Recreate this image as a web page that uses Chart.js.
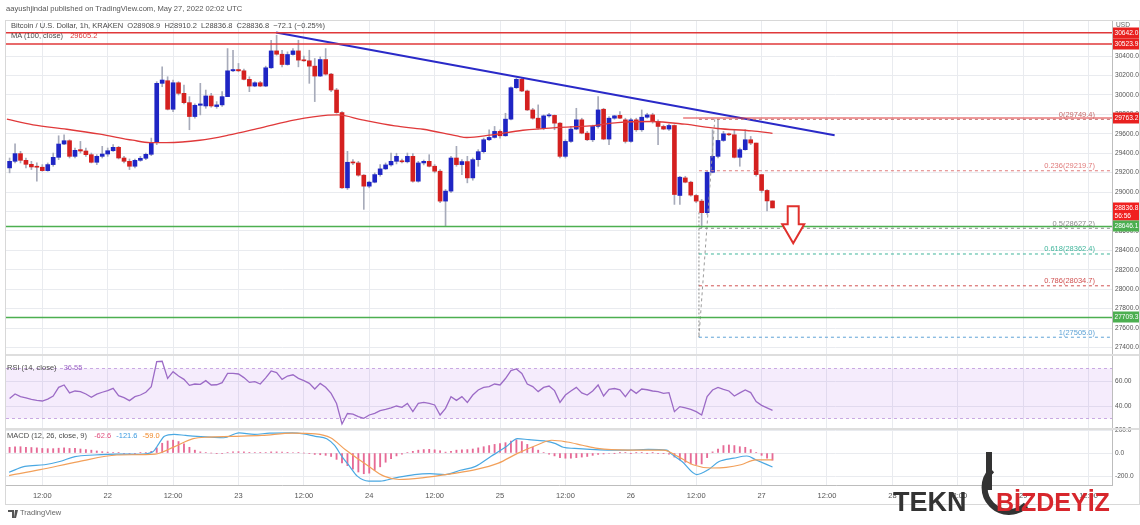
<!DOCTYPE html>
<html>
<head>
<meta charset="utf-8">
<script src="https://cdn.jsdelivr.net/npm/chart.js@4.4.1/dist/chart.umd.min.js"></script>
<style>
  html, body { margin: 0; padding: 0; background: #fff; }
  #wrap { position: relative; width: 1140px; height: 525px; overflow: hidden;
          font-family: "Liberation Sans", Arial, sans-serif; }
  #chart { position: absolute; left: 0; top: 0; }
  .txt { position: absolute; white-space: nowrap; font-size: 7.5px; color: #4a4a4a; line-height: 10px; }
  .txt b { font-weight: normal; margin-left: 5px; }
  #mark { position: absolute; left: 0; top: 0; pointer-events: none; }
</style>
</head>
<body>
<div id="wrap">
  <canvas id="chart" width="1140" height="525"></canvas>
  <div class="txt" style="left:6px; top:4px; font-size:7.6px; color:#555;">aayushjindal published on TradingView.com, May 27, 2022 02:02 UTC</div>
  <div class="txt" id="legend-main" style="left:11px; top:21px;"></div>
  <div class="txt" id="legend-ma" style="left:11px; top:31px;"></div>
  <div class="txt" id="legend-rsi" style="left:7px; top:363px;"></div>
  <div class="txt" id="legend-macd" style="left:7px; top:431px;"></div>
  <div class="txt" style="left:20px; top:508px; font-size:7.5px; color:#666;">TradingView</div>
  <svg id="mark" width="1140" height="525">
    <path d="M8 510 h6 v8 h-2 v-6 h-4 z M15 510 h3 l-2 8 h-2 z" fill="#555"/>
    <text x="893" y="511" font-family="Liberation Sans, Arial" font-weight="bold" font-size="27" fill="#333">TEKN</text>
    <path d="M989 452 v38" stroke="#333" stroke-width="6" fill="none"/>
    <path d="M992 470 A24 24 0 1 0 1026 505" stroke="#333" stroke-width="6" fill="none"/>
    <text x="996" y="511" font-family="Liberation Sans, Arial" font-weight="bold" font-size="25" fill="#d7262c">BİZDEYİZ</text>
  </svg>
</div>
<script>
// --- Dados ---
// candles de 1h a partir de 21 mai 06:00 (hora 6 contada desde 21 mai 00:00)
const FIRST_HOUR = 6;
const open = [
  29249, 29317, 29396, 29327, 29286, 29259, 29256, 29221, 29283, 29358,
  29495, 29529, 29368, 29437, 29423, 29385, 29307, 29368, 29392, 29426,
  29461, 29351, 29317, 29266, 29327, 29348, 29389, 29512, 30120, 30147,
  29853, 30126, 30017, 29921, 29778, 29894, 29887, 29990, 29881, 29898,
  29983, 30249, 30262, 30249, 30161, 30092, 30126, 30092, 30280, 30454,
  30420, 30314, 30417, 30454, 30359, 30352, 30297, 30195, 30365, 30215,
  30051, 29819, 29044, 29307, 29300, 29174, 29061, 29102, 29180, 29239,
  29280, 29317, 29320, 29312, 29368, 29112, 29300, 29317, 29266, 29215,
  28907, 29010, 29351, 29283, 29314, 29146, 29334, 29416, 29539, 29563,
  29625, 29580, 29751, 30075, 30161, 30041, 29846, 29761, 29659, 29785,
  29790, 29710, 29368, 29522, 29649, 29744, 29607, 29539, 29676, 29853,
  29546, 29761, 29790, 29744, 29522, 29744, 29642, 29771, 29795, 29727,
  29676, 29649, 29686, 28965, 29146, 29102, 28965, 28907, 28788, 29204,
  29368, 29532, 29600, 29590, 29358, 29437, 29539, 29505, 29180, 29017,
  28908.9
];
const high = [
  29351, 29498, 29420, 29351, 29317, 29300, 29283, 29300, 29402, 29580,
  29590, 29539, 29454, 29522, 29454, 29402, 29385, 29471, 29454, 29488,
  29471, 29368, 29341, 29341, 29368, 29402, 29556, 30137, 30290, 30188,
  30154, 30137, 30103, 29983, 29908, 30120, 30051, 30017, 29932, 30034,
  30478, 30461, 30325, 30266, 30188, 30137, 30140, 30297, 30564, 30615,
  30461, 30444, 30478, 30564, 30400, 30461, 30376, 30393, 30478, 30222,
  30068, 29829, 29420, 29334, 29317, 29180, 29112, 29198, 29283, 29300,
  29402, 29400, 29340, 29402, 29396, 29317, 29330, 29385, 29283, 29232,
  29027, 29368, 29471, 29334, 29368, 29351, 29437, 29556, 29642, 29676,
  29642, 29812, 30085, 30171, 30171, 30051, 29863, 29898, 29795, 29812,
  29795, 29715, 29539, 29676, 29863, 29761, 29625, 29690, 29983, 29863,
  29778, 29790, 29830, 29761, 29761, 29761, 29846, 29812, 29812, 29744,
  29690, 29700, 29693, 29163, 29163, 29112, 28975, 28924, 29215, 29642,
  29749, 29625, 29607, 29642, 29454, 29642, 29573, 29505, 29180, 29027,
  28910.2
];
const low = [
  29198, 29300, 29300, 29249, 29232, 29112, 29215, 29215, 29266, 29334,
  29488, 29351, 29351, 29402, 29368, 29300, 29283, 29351, 29368, 29420,
  29341, 29300, 29232, 29249, 29317, 29334, 29375, 29488, 30085, 29846,
  29829, 30000, 29908, 29642, 29761, 29795, 29863, 29874, 29863, 29881,
  29983, 30239, 30239, 30154, 30034, 30085, 30085, 30085, 30273, 30410,
  30290, 30307, 30410, 30290, 30345, 30120, 29932, 30190, 30205, 30034,
  29812, 29037, 29027, 29283, 29163, 28822, 29044, 29095, 29163, 29232,
  29266, 29290, 29300, 29300, 29102, 29102, 29280, 29259, 29198, 28890,
  28651, 28993, 29266, 29180, 29095, 29122, 29266, 29402, 29530, 29556,
  29556, 29575, 29744, 30068, 30034, 29840, 29751, 29649, 29642, 29771,
  29642, 29351, 29351, 29512, 29642, 29600, 29530, 29520, 29659, 29539,
  29488, 29750, 29755, 29505, 29512, 29625, 29625, 29761, 29710, 29488,
  29642, 29635, 28873, 28873, 29095, 28958, 28890, 28634, 28771, 29198,
  29351, 29522, 29580, 29351, 29266, 29430, 29488, 29163, 28993, 28805,
  28836.8
];
const close = [
  29317, 29396, 29327, 29286, 29259, 29256, 29221, 29283, 29358, 29495,
  29529, 29368, 29430, 29423, 29385, 29307, 29368, 29392, 29426, 29461,
  29351, 29317, 29266, 29327, 29348, 29389, 29512, 30120, 30154, 29853,
  30126, 30017, 29921, 29778, 29894, 29908, 29990, 29887, 29898, 29983,
  30249, 30262, 30249, 30161, 30092, 30126, 30092, 30280, 30454, 30420,
  30314, 30417, 30454, 30359, 30352, 30297, 30195, 30365, 30215, 30051,
  29819, 29044, 29307, 29300, 29174, 29061, 29102, 29180, 29239, 29280,
  29317, 29368, 29312, 29368, 29112, 29300, 29317, 29266, 29215, 28907,
  29010, 29351, 29283, 29314, 29146, 29334, 29416, 29539, 29563, 29625,
  29580, 29751, 30075, 30161, 30041, 29846, 29761, 29659, 29785, 29790,
  29710, 29368, 29522, 29649, 29744, 29607, 29539, 29676, 29846, 29546,
  29761, 29785, 29761, 29522, 29744, 29642, 29771, 29795, 29727, 29676,
  29649, 29686, 28975, 29153, 29102, 28969, 28907, 28788, 29204, 29368,
  29532, 29600, 29590, 29358, 29437, 29539, 29505, 29180, 29017, 28908.9,
  28836.8
];

// MA(100) lida em pontos ao longo da curva
const maHours = [5.5, 10.3, 16.5, 22.6, 28.6, 31.8, 34.8, 40.9, 46.1, 52.3, 58.4, 64.4, 66.3, 70.7, 76.7,
  81.9, 88.1, 89.9, 94.1, 100.2, 106.4, 112.5, 117.6, 123.8, 129.9, 135.9, 142.2, 146];
const maValues = [29751, 29692, 29647, 29596, 29534, 29510, 29510, 29534, 29586, 29665, 29743, 29792, 29795, 29743, 29681,
  29647, 29578, 29562, 29586, 29637, 29665, 29681, 29716, 29727, 29699, 29655, 29630, 29605.2];

// RSI(14) por candle
const rsi = [
  46, 49.6, 47.5, 46.5, 45.3, 44.5, 44, 45.5, 48, 54.9,
  56.8, 50.5, 52, 51.5, 49.6, 47, 49.5, 51, 52.3, 54.1,
  48.3, 46.7, 44.3, 47.5, 48.8, 51, 55.5, 75.5, 75.8, 62.1,
  67.5, 64, 61.3, 56.5, 57.6, 57.3, 60.3, 56.8, 57, 58.7,
  66.1, 66.1, 65.6, 62.7, 58.9, 59.5, 57.6, 62.5, 68, 66.7,
  61.3, 64, 65, 62.1, 60.3, 58.1, 53.6, 58.1, 55, 50.1,
  42, 25.6, 34, 33.5, 31.5, 30.1, 32.8, 34.1, 36.3, 37.3,
  38.5, 40, 38.9, 42.1, 35.5, 42.1, 42.9, 42.1, 40.8, 32.8,
  38.1, 47.5, 44.5, 47.5, 42.9, 48.8, 52.8, 54.9, 55.5, 57.6,
  56.8, 62, 68.3, 69.6, 66.1, 57.6, 55.5, 51.5, 54.9, 56,
  52.3, 42.9, 48.8, 52, 54.9, 50.5, 48.8, 52, 56.8, 48,
  53.3, 54, 53, 47.5, 53.3, 50.1, 53.6, 53, 52, 51.5,
  50.1, 50.7, 35.5, 39.5, 38.5, 37.3, 35.5, 32.8, 47.5, 52.8,
  54.9, 53.3, 52, 48, 50.5, 52.8, 50.7, 43.5, 40.5, 38.5,
  36.55
];
const rsiBand = [30, 70];

// MACD(12, 26, 9): linhas lidas em pontos, histograma por candle
const macdHours = [5.9, 8.8, 12.4, 15.2, 18, 21.5, 25.7, 29.9, 32.3, 33.4, 34.4, 36.2, 38.3, 40.4, 42.8, 45.3,
  48.1, 50.9, 53.7, 57.9, 60, 62.1, 64.2, 65.6, 67, 68.4, 69.8, 71.9, 74, 76.8, 80.3, 83.1, 85.9, 88.7,
  91.5, 94.3, 97.1, 99.2, 101.3, 104.1, 106.2, 107.6, 109.7, 112.5, 115.7, 119.5, 123.2, 126.6, 127.3,
  129.4, 132.1, 134.2, 136.2, 138.9, 141.3, 143, 146];
const macdValues = [-167, -116, -102, -74, -31, -17, -9, -11, 11, 82, 145, 162, 153, 145, 139, 133,
  176, 162, 173, 176, 167, 145, 125, 68, -31, -116, -201, -244, -244, -216, -187, -179, -187, -150,
  -116, -31, 54, 125, 116, 105, 82, 50, 40, 31, 26, 26, 31, 26, -3,
  -74, -187, -145, -74, -45, -26, -60, -121.6];
const signalHours = [5.9, 11.6, 18.7, 25.7, 32.7, 36.2, 39.7, 42.5, 46.7, 52.3, 57.9, 62.1, 64.9, 67.7, 71.9,
  74.7, 77.5, 81.7, 87.3, 91.5, 95.7, 99.2, 102.7, 105.5, 108.3, 111.1, 113.9, 119.5, 126, 128.7, 131.4,
  134.8, 137.5, 140.2, 142.9, 146];
const signalValues = [-196, -145, -74, -17, -9, 54, 125, 139, 145, 153, 173, 167, 133, 26, -116,
  -201, -230, -216, -179, -145, -88, -3, 68, 111, 96, 68, 40, 26, 26, -31, -102,
  -130, -125, -102, -60, -59.0];
const macdHist = [
  50, 55, 55, 50, 48, 45, 40, 38, 38, 42,
  45, 40, 40, 35, 30, 25, 18, 12, 8, 5,
  3, -3, -5, -3, 2, 5, 15, 45, 85, 105,
  112, 100, 80, 50, 25, 10, 5, 0, -3, -5,
  5, 10, 12, 10, 6, 4, 3, 5, 10, 10,
  8, 6, 5, 3, 0, -5, -12, -15, -20, -30,
  -55, -85, -110, -140, -165, -180, -175, -150, -120, -80,
  -50, -25, -10, 5, 15, 25, 30, 32, 28, 20,
  8, 15, 25, 28, 30, 35, 45, 55, 65, 75,
  82, 90, 105, 115, 100, 75, 50, 25, 5, -10,
  -25, -40, -45, -45, -40, -35, -30, -20, -12, -8,
  -4, -2, 2, 3, -2, 2, 3, -2, 2, -3,
  -3, -10, -35, -60, -80, -95, -100, -95, -40, 10,
  35, 65, 70, 65, 55, 50, 30, 5, -20, -45,
  -62.6
];

// Eixos e níveis
const tickHours = [12, 24, 36, 48, 60, 72, 84, 96, 108, 120, 132, 144, 156, 168, 180, 192, 204];
const tickLabels = ['12:00', '22', '12:00', '23', '12:00', '24', '12:00', '25', '12:00', '26', '12:00', '27', '12:00', '28', '12:00', '29', '12:00'];
const priceTicks = [27400, 27600, 27800, 28000, 28200, 28400, 28600, 28800, 29000, 29200, 29400, 29600, 29800, 30000, 30200, 30400];
const rsiTicks = [40, 60];
const macdTicks = [-200, 0, 200];

const resistanceLevels = [30642.0, 30523.9];
const supportLevels = [28646.1, 27709.3];
const swingHigh = 29763.2;
const swingHighFrom = 129.6;
const trendHours = [54.9, 157.4];
const trendPrices = [30644, 29586];
const fibRatios = [0, 0.236, 0.5, 0.618, 0.786, 1];
const fibPrices = [29749.4, 29219.7, 28627.2, 28362.4, 28034.7, 27505.0];
const fibFrom = 132.5;
const fibAnchorHours = [132.5, 135.4];
const fibVertical = [28790, 27505.0];
const arrowMark = { hour: 149.8, top: 28854, neck: 28668, tip: 28472 };
const countdown = '56:56';

// --- Estilos ---
const BLUE = '#1f25c4';
const RED = '#d4201f';
const GREEN = '#4caf50';
const WICK = '#a7abba';
const GRID = '#e9ebef';
const fibColors = ['#c46a6a', '#e07b7b', '#8a8a8a', '#3fb59b', '#d05050', '#5fa3d6'];

const X_MIN = 5.34, X_MAX = 208.3;
const P_MIN = 27322, P_MAX = 30762;

const candleHours = close.map((_, i) => FIRST_HOUR + i);
const last = close.length - 1;

// --- Legendas ---
const fmt1 = v => v.toFixed(1);
const minus = s => s.replace('-', '\u2212');
const chg = close[last] - close[last - 1];
document.getElementById('legend-main').innerHTML =
  'Bitcoin / U.S. Dollar, 1h, KRAKEN&nbsp;&nbsp;O' + fmt1(open[last]) + '&nbsp;&nbsp;H' + fmt1(high[last]) +
  '&nbsp;&nbsp;L' + fmt1(low[last]) + '&nbsp;&nbsp;C' + fmt1(close[last]) + '&nbsp;&nbsp;' +
  minus(fmt1(chg)) + ' (' + minus((chg / close[last - 1] * 100).toFixed(2)) + '%)';
document.getElementById('legend-ma').innerHTML =
  'MA (100, close) <b style="color:#d9383a">' + fmt1(maValues[maValues.length - 1]) + '</b>';
document.getElementById('legend-rsi').innerHTML =
  'RSI (14, close) <b style="color:#9a62c4">' + rsi[last].toFixed(2) + '</b>';
document.getElementById('legend-macd').innerHTML =
  'MACD (12, 26, close, 9) <b style="color:#e0507f">' + fmt1(macdHist[last]) + '</b>' +
  '<b style="color:#3d9be0">' + fmt1(macdValues[macdValues.length - 1]) + '</b>' +
  '<b style="color:#f08a2c">' + fmt1(signalValues[signalValues.length - 1]) + '</b>';

// --- Datasets auxiliares ---
function segment(x1, y1, x2, y2, color, width, dash) {
  return {
    type: 'line', yAxisID: 'y', order: 0,
    data: [{ x: x1, y: y1 }, { x: x2, y: y2 }],
    borderColor: color, borderWidth: width, borderDash: dash || [],
    pointRadius: 0, tension: 0
  };
}

const lineSets = [];
resistanceLevels.forEach(v => lineSets.push(segment(X_MIN, v, X_MAX, v, '#e0393a', 1.5)));
supportLevels.forEach(v => lineSets.push(segment(X_MIN, v, X_MAX, v, GREEN, 1.5)));
fibPrices.forEach((v, k) => lineSets.push(segment(fibFrom, v, X_MAX, v, fibColors[k], 1, [3, 3])));
lineSets.push(segment(swingHighFrom, swingHigh, X_MAX, swingHigh, '#e0393a', 1.2));
lineSets.push(segment(fibAnchorHours[0], fibPrices[5], fibAnchorHours[1], fibPrices[0], '#9a9a9a', 1, [3, 3]));
lineSets.push(segment(fibFrom, fibVertical[0], fibFrom, fibVertical[1], '#8a8a8a', 1, [2, 2]));
lineSets.push(segment(trendHours[0], trendPrices[0], trendHours[1], trendPrices[1], '#2a2ac8', 2));

// --- Plugins ---
const panePlugin = {
  id: 'panes',
  beforeDatasetsDraw(chart) {
    const { ctx, chartArea: a, scales } = chart;
    const r = scales.rsi;
    const yTop = r.getPixelForValue(rsiBand[1]);
    const yBot = r.getPixelForValue(rsiBand[0]);
    ctx.save();
    ctx.fillStyle = 'rgba(170, 100, 230, 0.12)';
    ctx.fillRect(a.left, yTop, a.right - a.left, yBot - yTop);
    ctx.strokeStyle = '#c9a9e2';
    ctx.lineWidth = 1;
    ctx.setLineDash([3, 3]);
    [yTop, yBot].forEach(yy => {
      ctx.beginPath(); ctx.moveTo(a.left, yy); ctx.lineTo(a.right, yy); ctx.stroke();
    });
    ctx.setLineDash([]);
    ctx.strokeStyle = '#dedede';
    ctx.lineWidth = 2;
    [scales.y.bottom, scales.rsi.bottom].forEach(yy => {
      ctx.beginPath(); ctx.moveTo(a.left, yy); ctx.lineTo(chart.width, yy); ctx.stroke();
    });
    ctx.restore();
  },
  afterDatasetsDraw(chart) {
    const { ctx, chartArea: a, scales: { x, y } } = chart;
    ctx.save();
    // rótulos de Fibonacci
    ctx.font = '7.5px "Liberation Sans", Arial';
    ctx.textAlign = 'right';
    ctx.textBaseline = 'bottom';
    fibPrices.forEach((v, k) => {
      ctx.fillStyle = fibColors[k];
      ctx.fillText(fibRatios[k] + '(' + v.toFixed(1) + ')', a.right - 17, y.getPixelForValue(v) - 1);
    });
    // seta vermelha
    const cx = x.getPixelForValue(arrowMark.hour);
    const t = y.getPixelForValue(arrowMark.top);
    const n = y.getPixelForValue(arrowMark.neck);
    const p = y.getPixelForValue(arrowMark.tip);
    ctx.beginPath();
    ctx.moveTo(cx - 5.5, t); ctx.lineTo(cx + 5.5, t); ctx.lineTo(cx + 5.5, n);
    ctx.lineTo(cx + 11, n); ctx.lineTo(cx, p); ctx.lineTo(cx - 11, n);
    ctx.lineTo(cx - 5.5, n); ctx.closePath();
    ctx.fillStyle = '#fff';
    ctx.fill();
    ctx.strokeStyle = '#e0302c';
    ctx.lineWidth = 2;
    ctx.stroke();
    ctx.restore();
  },
  afterDraw(chart) {
    const { ctx, scales: { y } } = chart;
    const left = y.left;
    const w = chart.width - left;
    const tags = [
      ...resistanceLevels.map(v => ({ v, c: '#e8201f' })),
      { v: swingHigh, c: '#e8201f' },
      { v: close[last], c: '#f0201f', sub: countdown },
      ...supportLevels.map(v => ({ v, c: '#4caf50' }))
    ];
    ctx.save();
    ctx.font = '6.6px "Liberation Sans", Arial';
    ctx.textBaseline = 'middle';
    ctx.textAlign = 'left';
    tags.forEach(tg => {
      const py = Math.round(y.getPixelForValue(tg.v));
      ctx.fillStyle = tg.c;
      ctx.fillRect(left + 1, py - 5.5, w, tg.sub ? 18 : 11);
      ctx.fillStyle = '#fff';
      ctx.fillText(tg.v.toFixed(1), left + 2.5, py);
      if (tg.sub) ctx.fillText(tg.sub, left + 2.5, py + 8);
    });
    ctx.fillStyle = '#666';
    ctx.fillText('USD', left + 4, 25);
    // moldura
    ctx.strokeStyle = '#d8d8d8';
    ctx.lineWidth = 1;
    ctx.strokeRect(5.5, 20.5, chart.width - 6, 484);
    ctx.restore();
  }
};

// --- Gráfico ---
Chart.defaults.font.family = '"Liberation Sans", Arial, sans-serif';
Chart.defaults.font.size = 7.5;
Chart.defaults.color = '#555';

const yTicks = { font: { size: 6.6 }, padding: 3 };

const ctx = document.getElementById('chart').getContext('2d');
new Chart(ctx, {
  type: 'bar',
  data: {
    datasets: [
      {
        type: 'line', yAxisID: 'y', order: 0,
        data: maHours.map((h, i) => ({ x: h, y: maValues[i] })),
        borderColor: '#e0393a', borderWidth: 1.3, pointRadius: 0, cubicInterpolationMode: 'monotone'
      },
      ...lineSets,
      {
        type: 'bar', yAxisID: 'y', order: 1, grouped: false,
        data: candleHours.map((h, i) => ({ x: h, y: [open[i], close[i]] })),
        backgroundColor: c => (c.raw && c.raw.y[1] < c.raw.y[0]) ? RED : BLUE,
        barThickness: 4, minBarLength: 1, borderSkipped: false
      },
      {
        type: 'bar', yAxisID: 'y', order: 2, grouped: false,
        data: candleHours.map((h, i) => ({ x: h, y: [low[i], high[i]] })),
        backgroundColor: WICK, barThickness: 1
      },
      {
        type: 'line', yAxisID: 'rsi', order: 0,
        data: candleHours.map((h, i) => ({ x: h, y: rsi[i] })),
        borderColor: '#9c6bc6', borderWidth: 1.3, pointRadius: 0, tension: 0
      },
      {
        type: 'bar', yAxisID: 'macd', order: 2, grouped: false,
        data: candleHours.map((h, i) => ({ x: h, y: macdHist[i] })),
        backgroundColor: '#e66a96', barThickness: 1.2
      },
      {
        type: 'line', yAxisID: 'macd', order: 0,
        data: signalHours.map((h, i) => ({ x: h, y: signalValues[i] })),
        borderColor: '#f2a05a', borderWidth: 1.2, pointRadius: 0, cubicInterpolationMode: 'monotone'
      },
      {
        type: 'line', yAxisID: 'macd', order: 0,
        data: macdHours.map((h, i) => ({ x: h, y: macdValues[i] })),
        borderColor: '#4aa8e2', borderWidth: 1.2, pointRadius: 0, cubicInterpolationMode: 'monotone'
      }
    ]
  },
  options: {
    responsive: false,
    animation: false,
    events: [],
    devicePixelRatio: 1,
    layout: { padding: { left: 6, top: 21, right: 0, bottom: 20 } },
    plugins: { legend: { display: false }, tooltip: { enabled: false } },
    scales: {
      x: {
        type: 'linear', min: X_MIN, max: X_MAX, offset: false,
        grid: { color: GRID, drawTicks: false, offset: false },
        border: { color: '#bdbdbd' },
        ticks: {
          padding: 6, maxRotation: 0, autoSkip: false,
          callback: v => { const k = tickHours.indexOf(v); return k >= 0 ? tickLabels[k] : ''; }
        },
        afterBuildTicks: s => { s.ticks = tickHours.map(v => ({ value: v })); },
        afterFit: s => { s.height = 20; }
      },
      y: {
        type: 'linear', position: 'right', stack: 'panes', stackWeight: 334,
        min: P_MIN, max: P_MAX,
        grid: { color: GRID, drawTicks: false },
        border: { color: '#bdbdbd' },
        ticks: { ...yTicks, callback: v => v.toFixed(1) },
        afterBuildTicks: s => { s.ticks = priceTicks.map(v => ({ value: v })); },
        afterFit: s => { s.width = 28; }
      },
      rsi: {
        type: 'linear', position: 'right', stack: 'panes', stackWeight: 74,
        min: 21.6, max: 80.8,
        grid: { color: GRID, drawTicks: false },
        border: { color: '#bdbdbd' },
        ticks: { ...yTicks, callback: v => v.toFixed(2) },
        afterBuildTicks: s => { s.ticks = rsiTicks.map(v => ({ value: v })); },
        afterFit: s => { s.width = 28; }
      },
      macd: {
        type: 'linear', position: 'right', stack: 'panes', stackWeight: 56,
        min: -278, max: 209,
        grid: { color: GRID, drawTicks: false },
        border: { color: '#bdbdbd' },
        ticks: { ...yTicks, callback: v => v.toFixed(1) },
        afterBuildTicks: s => { s.ticks = macdTicks.map(v => ({ value: v })); },
        afterFit: s => { s.width = 28; }
      }
    }
  },
  plugins: [panePlugin]
});
</script>
</body>
</html>
